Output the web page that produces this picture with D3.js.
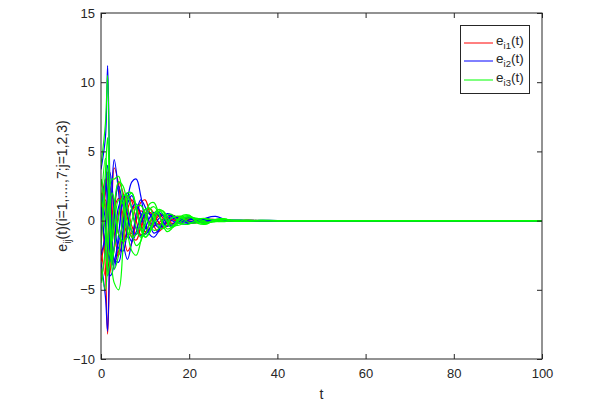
<!DOCTYPE html>
<html>
<head>
<meta charset="utf-8">
<script src="https://cdn.jsdelivr.net/npm/d3@7"></script>
<style>
  body { margin: 0; background: #fff; }
  text { font-family: "Liberation Sans", Arial, sans-serif; fill: #262626; }
</style>
</head>
<body>
<div id="chart"></div>
<script>
// time samples (t)
var tVals = [0, 1, 1.5, 2, 2.5, 3, 4, 5, 6, 7, 8, 9, 10, 11, 12, 13, 14, 15, 16, 18, 20, 22, 24, 26, 28, 30, 33, 36, 40, 50, 60, 80, 100];

// e_i1(t), i = 1..7
var red1 = [2.0, -3.5, -8.2, -3.0, 1.5, 3.8, 2.6, -0.4, -2.2, -1.6, 0.1, 1.3, 1.5, 0.6, -0.4, -0.8, -0.5, 0.1, 0.4, 0.1, -0.2, -0.1, 0.1, 0.05, -0.03, 0, 0.02, 0, 0, 0, 0, 0, 0];
var red2 = [-1.5, 2.0, 3.5, 1.0, -1.5, -3.0, -2.2, 0.3, 1.8, 1.4, 0.0, -1.0, -0.9, -0.2, 0.4, 0.5, 0.2, -0.2, -0.3, 0.1, 0.15, -0.05, -0.08, 0.03, 0.03, -0.01, 0, 0, 0, 0, 0, 0, 0];
var red3 = [3.0, 1.0, -2.5, -3.8, -2.0, 0.5, 2.8, 2.0, 0.2, -1.2, -1.4, -0.5, 0.5, 0.9, 0.5, -0.1, -0.5, -0.4, 0.0, 0.3, -0.1, -0.15, 0.05, 0.08, -0.02, -0.03, 0.01, 0, 0, 0, 0, 0, 0];
var red4 = [-3.0, -1.0, 1.5, 2.5, 1.0, -0.8, -2.5, -1.2, 0.8, 1.5, 0.9, -0.2, -0.8, -0.6, 0.0, 0.4, 0.4, 0.1, -0.2, -0.1, 0.1, 0.05, -0.04, -0.02, 0.02, 0, 0, 0, 0, 0, 0, 0, 0];
var red5 = [1.0, 3.0, 2.0, -1.0, -2.8, -2.0, 0.5, 1.8, 1.0, -0.4, -1.0, -0.6, 0.2, 0.6, 0.4, -0.1, -0.3, -0.2, 0.05, 0.15, -0.05, -0.1, 0.03, 0.04, -0.01, -0.02, 0, 0, 0, 0, 0, 0, 0];
var red6 = [-2.0, -4.0, -2.0, 1.0, 2.0, 1.2, -1.0, -1.6, -0.5, 0.8, 1.0, 0.3, -0.5, -0.6, -0.1, 0.3, 0.35, 0.05, -0.2, -0.05, 0.1, 0.02, -0.05, 0, 0.02, 0, 0, 0, 0, 0, 0, 0, 0];
var red7 = [0.5, 1.5, 0.5, -1.5, -1.0, 0.8, 1.6, 0.4, -1.0, -0.9, 0.1, 0.7, 0.5, -0.1, -0.4, -0.2, 0.1, 0.25, 0.1, -0.1, 0.05, 0.06, -0.03, -0.02, 0.01, 0, 0, 0, 0, 0, 0, 0, 0];

// e_i2(t)
var blue1 = [3.7, 6.0, 11.2, 3.0, -2.5, -3.5, -1.0, 1.5, 2.0, 0.8, -0.6, -1.1, -0.6, 0.2, 0.6, 0.4, -0.1, -0.4, -0.3, 0.15, 0.2, -0.05, -0.1, 0.02, 0.05, 0, -0.02, 0, 0, 0, 0, 0, 0];
var blue2 = [-3.0, -5.5, -8.0, -1.5, 2.5, 4.4, 2.0, -1.5, -2.8, -1.5, 0.5, 1.5, 1.0, -0.2, -0.9, -0.7, 0.0, 0.5, 0.4, -0.2, -0.2, 0.1, 0.1, -0.05, -0.04, 0.02, 0, 0, 0, 0, 0, 0, 0];
var blue3 = [1.0, -2.0, -3.5, -4.0, -3.8, -3.0, -1.5, -0.2, 1.5, 2.8, 3.0, 1.8, 0.0, -1.0, -1.2, -0.8, -0.2, 0.3, 0.4, 0.1, -0.2, -0.1, 0.2, 0.3, 0.1, -0.05, -0.05, 0.02, 0, 0, 0, 0, 0];
var blue4 = [-1.0, 2.5, 4.0, 2.0, -1.0, -2.8, -3.0, -0.8, 1.2, 1.8, 0.8, -0.5, -1.0, -0.6, 0.2, 0.6, 0.4, -0.1, -0.4, 0.0, 0.25, 0.0, -0.12, 0.0, 0.06, 0, -0.02, 0, 0, 0, 0, 0, 0];
var blue5 = [2.0, 0.0, -2.0, -3.0, -1.5, 1.0, 2.5, 1.0, -0.8, -1.5, -0.8, 0.3, 0.8, 0.5, -0.1, -0.5, -0.4, 0.0, 0.3, 0.1, -0.15, -0.05, 0.1, 0.0, -0.05, 0, 0.02, 0, 0, 0, 0, 0, 0];
var blue6 = [-2.5, -1.0, 2.0, 3.5, 2.5, 0.5, -2.0, -2.2, -0.6, 0.9, 1.2, 0.5, -0.4, -0.7, -0.4, 0.1, 0.4, 0.3, 0.0, -0.2, 0.05, 0.12, 0.0, -0.06, 0.0, 0.03, 0, 0, 0, 0, 0, 0, 0];
var blue7 = [0.0, 3.0, 1.0, -2.0, -3.2, -1.8, 1.0, 1.6, 0.5, -0.8, -1.0, -0.2, 0.5, 0.5, 0.0, -0.3, -0.3, 0.0, 0.2, -0.05, -0.1, 0.05, 0.06, -0.02, -0.03, 0, 0, 0, 0, 0, 0, 0, 0];

// e_i3(t)
var green1 = [4.0, 7.0, 10.5, 2.0, -3.5, -4.5, -5.0, -2.0, 1.5, 2.0, 1.0, -0.5, -1.2, -0.8, 0.2, 0.8, 0.7, 0.0, -0.5, 0.1, 0.3, -0.1, -0.2, 0.05, 0.1, 0, -0.05, 0.02, 0, 0, 0, 0, 0];
var green2 = [-4.5, -2.0, 1.0, 2.5, 3.0, 3.0, 3.2, 1.5, -0.8, -2.2, -2.5, -1.5, 0.2, 1.2, 1.3, 0.6, -0.3, -0.8, -0.6, 0.3, 0.4, -0.2, -0.25, 0.1, 0.12, -0.04, -0.03, 0.01, 0, 0, 0, 0, 0];
var green3 = [2.0, -1.0, -4.0, -3.0, -1.0, 1.0, 2.8, 2.5, 1.0, -0.8, -1.8, -1.5, -0.3, 0.8, 1.0, 0.6, -0.2, -0.6, -0.5, 0.2, 0.35, -0.1, -0.2, 0.05, 0.1, -0.03, -0.02, 0, 0, 0, 0, 0, 0];
var green4 = [-2.0, 3.5, 6.0, 1.5, -2.0, -3.5, -2.5, 0.5, 2.0, 2.0, 0.8, -0.6, -1.2, -0.9, -0.1, 0.6, 0.7, 0.3, -0.3, -0.3, 0.2, 0.15, -0.1, -0.08, 0.05, 0.03, -0.01, 0, 0, 0, 0, 0, 0];
var green5 = [3.0, 1.0, -1.5, -2.5, -2.8, -2.0, 0.2, 1.8, 1.8, 0.8, -0.5, -1.2, -1.0, -0.2, 0.5, 0.8, 0.5, -0.1, -0.5, -0.1, 0.3, 0.05, -0.15, 0.0, 0.08, 0, -0.03, 0, 0, 0, 0, 0, 0];
var green6 = [-3.5, -5.0, -3.0, 0.5, 2.0, 1.5, -1.0, -1.5, -1.2, 0.0, 1.0, 1.1, 0.5, -0.3, -0.7, -0.6, 0.0, 0.4, 0.45, -0.2, -0.25, 0.1, 0.15, -0.05, -0.07, 0.02, 0.03, 0, 0, 0, 0, 0, 0];
var green7 = [1.0, 4.5, 3.0, -0.5, -1.5, -0.5, 1.5, 1.2, -0.2, -1.2, -1.0, 0.0, 0.8, 0.9, 0.3, -0.4, -0.6, -0.3, 0.2, 0.3, -0.15, -0.15, 0.08, 0.08, -0.04, -0.03, 0.01, 0, 0, 0, 0, 0, 0];

var xTicks = [0, 20, 40, 60, 80, 100];
var yTicks = [-10, -5, 0, 5, 10, 15];
var seriesNames = ["i1", "i2", "i3"];
var seriesColors = ["#ff0000", "#0000ff", "#00ff00"];
var groups = [
    [red1, red2, red3, red4, red5, red6, red7],
    [blue1, blue2, blue3, blue4, blue5, blue6, blue7],
    [green1, green2, green3, green4, green5, green6, green7]
];

var width = 603, height = 407;
var pLeft = 101, pRight = 542, pTop = 13, pBottom = 359;

var svg = d3.select("#chart").append("svg")
    .attr("width", width)
    .attr("height", height);

var x = d3.scaleLinear().domain([0, 100]).range([pLeft, pRight]);
var y = d3.scaleLinear().domain([-10, 15]).range([pBottom, pTop]);

svg.append("clipPath").attr("id", "clip")
    .append("rect")
    .attr("x", pLeft).attr("y", pTop)
    .attr("width", pRight - pLeft).attr("height", pBottom - pTop);

// curves
var line = d3.line()
    .x(function (d) { return x(d[0]); })
    .y(function (d) { return y(d[1]); })
    .curve(d3.curveCatmullRom.alpha(0.5));

var plot = svg.append("g").attr("clip-path", "url(#clip)");
groups.forEach(function (grp, gi) {
    grp.forEach(function (vals) {
        var pts = tVals.map(function (t, k) { return [t, vals[k]]; });
        plot.append("path")
            .attr("d", line(pts))
            .attr("fill", "none")
            .attr("stroke", seriesColors[gi])
            .attr("stroke-width", 1.2);
    });
});

// axes (matlab style, ticks inward on all sides)
var axisColor = "#262626";
var xAxis = svg.append("g")
    .attr("transform", "translate(0," + pBottom + ")")
    .call(d3.axisBottom(x).tickValues(xTicks).tickSize(-5).tickPadding(10));
var xTop = svg.append("g")
    .attr("transform", "translate(0," + pTop + ")")
    .call(d3.axisTop(x).tickValues(xTicks).tickSize(-5).tickFormat(""));
var yAxis = svg.append("g")
    .attr("transform", "translate(" + pLeft + ",0)")
    .call(d3.axisLeft(y).tickValues(yTicks).tickSize(-5).tickPadding(6));
var yRight = svg.append("g")
    .attr("transform", "translate(" + pRight + ",0)")
    .call(d3.axisRight(y).tickValues(yTicks).tickSize(-5).tickFormat(""));

[xAxis, xTop, yAxis, yRight].forEach(function (a) {
    a.select(".domain").remove();
    a.selectAll("line").attr("stroke", axisColor);
    a.selectAll("text")
        .attr("font-size", 13)
        .attr("font-family", "Liberation Sans, Arial, sans-serif")
        .attr("fill", axisColor);
});

svg.append("rect")
    .attr("x", pLeft).attr("y", pTop)
    .attr("width", pRight - pLeft).attr("height", pBottom - pTop)
    .attr("fill", "none")
    .attr("stroke", axisColor)
    .attr("stroke-width", 1);

// axis labels
svg.append("text")
    .attr("x", (pLeft + pRight) / 2)
    .attr("y", 399)
    .attr("text-anchor", "middle")
    .attr("font-size", 14)
    .text("t");

var yl = svg.append("text")
    .attr("transform", "translate(67," + ((pTop + pBottom) / 2) + ") rotate(-90)")
    .attr("text-anchor", "middle")
    .attr("font-size", 14);
yl.append("tspan").text("e");
yl.append("tspan").attr("font-size", 10).attr("dy", 4).text("ij");
yl.append("tspan").attr("dy", -4).text("(t)(i=1,....,7;j=1,2,3)");

// legend
var legend = svg.append("g");
legend.append("rect")
    .attr("x", 460.5).attr("y", 25.5)
    .attr("width", 69).attr("height", 68)
    .attr("fill", "#fff")
    .attr("stroke", axisColor)
    .attr("stroke-width", 1);
var rowY = [43, 61, 80];
seriesNames.forEach(function (nm, i) {
    legend.append("line")
        .attr("x1", 464).attr("x2", 493)
        .attr("y1", rowY[i]).attr("y2", rowY[i])
        .attr("stroke", seriesColors[i])
        .attr("stroke-width", 1);
    var t = legend.append("text")
        .attr("x", 496)
        .attr("y", rowY[i] + 2)
        .attr("font-size", 13.5);
    t.append("tspan").text("e");
    t.append("tspan").attr("font-size", 9.5).attr("dy", 4).text(nm);
    t.append("tspan").attr("dy", -4).text("(t)");
});
</script>
</body>
</html>
